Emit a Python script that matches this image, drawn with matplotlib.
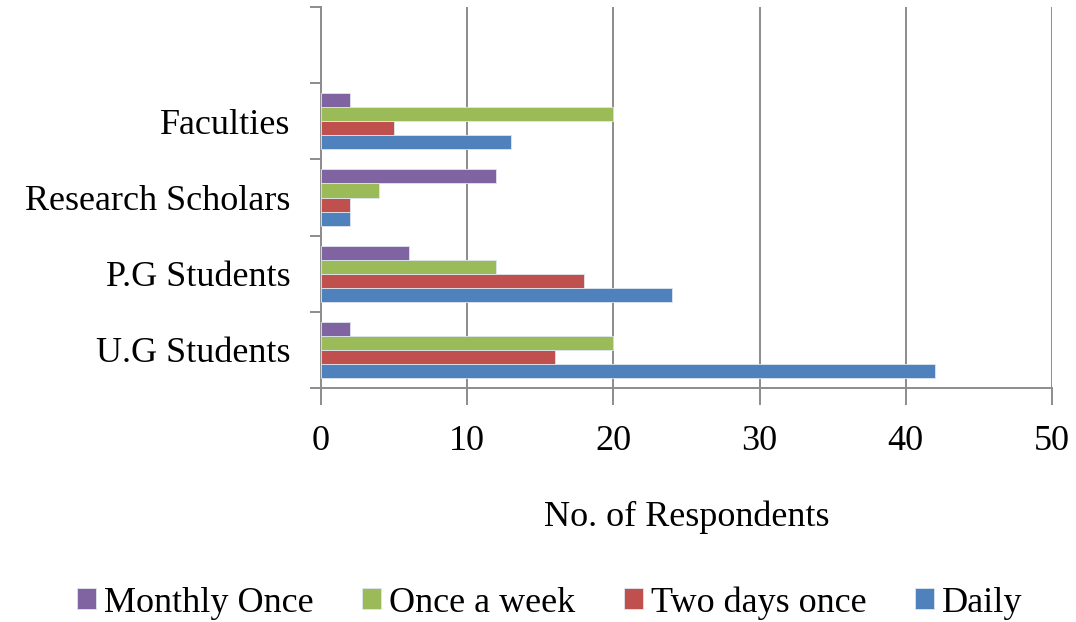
import numpy as np
import matplotlib
matplotlib.use("Agg")
import matplotlib.pyplot as plt
from matplotlib.patches import Patch

plt.rcParams['font.family'] = ['Liberation Serif', 'DejaVu Serif']

# survey results: how often each group uses the service
groups = ["U.G Students", "P.G Students", "Research Scholars", "Faculties"]
series = ["Daily", "Two days once", "Once a week", "Monthly Once"]
daily = [42, 24, 2, 13]
two_days = [16, 18, 2, 5]
once_week = [20, 12, 4, 20]
monthly = [2, 6, 12, 2]
colors = ["#4F81BD", "#C0504D", "#9BBB59", "#8064A2"]

values = [daily, two_days, once_week, monthly]
FS = 26

fig = plt.figure(figsize=(10.76, 6.22), dpi=100)
ax = fig.add_axes([321 / 1076, 1 - 388 / 622, (1052 - 321) / 1076, (388 - 7) / 622])

y = np.arange(len(groups))
h = 0.184
for i, (vals, col) in enumerate(zip(values, colors)):
    ax.barh(y + (i - 1.5) * h, vals, height=h, color=col,
            edgecolor="#dfe6f0", linewidth=0.6, zorder=3)

ax.set_xlim(0, 50)
ax.set_ylim(-0.5, len(groups) + 0.5)
ax.set_xticks(range(0, 51, 10))
ax.set_yticks(y)
ax.set_yticklabels(groups)
ax.set_yticks(np.arange(-0.5, len(groups) + 1, 1), minor=True)

ax.xaxis.grid(True, color="#8c8c8c", linewidth=1.4, zorder=0)
ax.tick_params(axis="y", which="major", length=0, pad=22, labelsize=FS)
ax.tick_params(axis="y", which="minor", length=8, width=1.4, color="#8c8c8c")
ax.tick_params(axis="x", which="major", length=12, width=1.4, color="#8c8c8c",
               pad=15, labelsize=FS)

for side in ["top", "right"]:
    ax.spines[side].set_visible(False)
for side in ["left", "bottom"]:
    ax.spines[side].set_color("#8c8c8c")
    ax.spines[side].set_linewidth(1.4)

ax.set_xlabel("No. of Respondents", fontsize=FS, labelpad=30)

handles = [Patch(facecolor=c, edgecolor="#dfe6f0", linewidth=0.6) for c in colors[::-1]]
fig.legend(handles, series[::-1], loc="center", bbox_to_anchor=(0.511, 1 - 603 / 622),
           ncol=4, frameon=False, fontsize=FS, handlelength=0.52, handleheight=0.52,
           handletextpad=0.22, columnspacing=1.35)

fig.savefig("out.png", dpi=100)
